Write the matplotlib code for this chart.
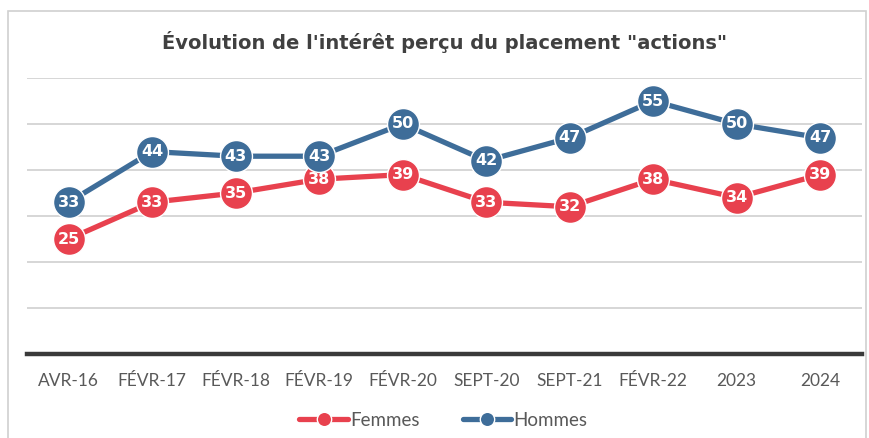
import matplotlib
matplotlib.use('Agg')
import matplotlib.pyplot as plt
from matplotlib.patches import Rectangle

# données
periodes = ['AVR-16', 'FÉVR-17', 'FÉVR-18', 'FÉVR-19', 'FÉVR-20',
            'SEPT-20', 'SEPT-21', 'FÉVR-22', '2023', '2024']
femmes = [25, 33, 35, 38, 39, 33, 32, 38, 34, 39]
hommes = [33, 44, 43, 43, 50, 42, 47, 55, 50, 47]

rouge = '#E8414E'
bleu = '#3E6D99'

plt.rcParams['font.family'] = ['Lato', 'DejaVu Sans']

fig = plt.figure(figsize=(8.69, 4.38), dpi=100)
ax = fig.add_axes([27 / 869, 84 / 438, 835 / 869, 276 / 438])

x = range(len(periodes))
for serie, couleur, nom in [(femmes, rouge, 'Femmes'), (hommes, bleu, 'Hommes')]:
    ax.plot(x, serie, color=couleur, lw=3.8, marker='o', ms=23,
            markeredgecolor='white', markeredgewidth=1.0, label=nom,
            solid_capstyle='round', zorder=3)
    for i, v in enumerate(serie):
        ax.text(i, v, str(v), color='white', fontsize=11.5, fontweight='bold',
                family='DejaVu Sans', ha='center', va='center', zorder=4)

ax.set_xlim(-0.5, len(periodes) - 0.5)
ax.set_ylim(0, 60)
ax.set_yticks(range(0, 61, 10))
ax.yaxis.grid(True, color='#D0D0D0', lw=1.2)
ax.set_axisbelow(True)
ax.tick_params(axis='y', left=False, labelleft=False)
ax.tick_params(axis='x', length=0, pad=14, labelsize=12.5, labelcolor='#595959')
ax.set_xticks(list(x))
ax.set_xticklabels(periodes)
for cote in ['top', 'left', 'right']:
    ax.spines[cote].set_visible(False)
ax.spines['bottom'].set_color('#3A3A3A')
ax.spines['bottom'].set_linewidth(3.2)
ax.spines['bottom'].set_zorder(5)

fig.text(0.512, 0.903, 'Évolution de l\'intérêt perçu du placement "actions"',
         ha='center', va='center', fontsize=14, fontweight='bold', color='#404040',
         family='DejaVu Sans')

handles, labels = ax.get_legend_handles_labels()
leg = fig.legend(handles, labels, loc='center', bbox_to_anchor=(0.51, 0.04), ncol=2,
                 frameon=False, fontsize=13.5, handlelength=2.6, handletextpad=0.1,
                 columnspacing=2.3, markerscale=0.45)
for t in leg.get_texts():
    t.set_color('#595959')

fig.patches.append(Rectangle((8 / 869, -0.01), 858 / 869, (438 - 11) / 438 + 0.01,
                             transform=fig.transFigure, fill=False,
                             edgecolor='#D0D0D0', lw=1.2))

fig.savefig('out.png', dpi=100)
